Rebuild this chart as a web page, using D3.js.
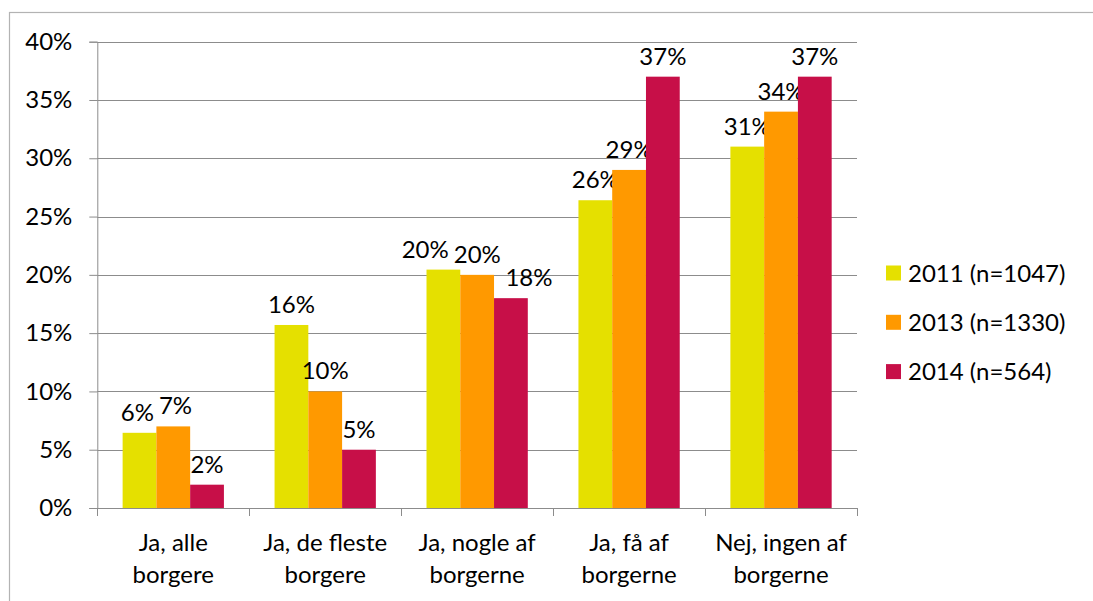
<!DOCTYPE html>
<html>
<head>
<meta charset="utf-8">
<style>
  body { margin: 0; background: #fff; }
  svg text { font-family: Lato, "Open Sans", sans-serif; fill: #000; }
</style>
</head>
<body>
<script src="https://cdn.jsdelivr.net/npm/d3@7"></script>
<script>

// data (percent)
var categories = ["Ja, alle\nborgere", "Ja, de fleste\nborgere", "Ja, nogle af\nborgerne",
                  "Ja, få af\nborgerne", "Nej, ingen af\nborgerne"];
var seriesNames = ["2011 (n=1047)", "2013 (n=1330)", "2014 (n=564)"];
var v2011 = [6.45, 15.7, 20.45, 26.4, 31.0];
var v2013 = [7.0, 10.0, 20.0, 29.0, 34.0];
var v2014 = [2.0, 5.0, 18.0, 37.0, 37.0];
var yTicks = [0, 5, 10, 15, 20, 25, 30, 35, 40];

var colors = ["#e5e000", "#ff9900", "#c70f48"];
var values = [v2011, v2013, v2014];

var W = 1093, H = 601, FS = 24;
var plot = {left: 97.3, right: 857, top: 41.7, bottom: 508};

svg = d3.select("body").append("svg")
    .attr("width", W)
    .attr("height", H);

// outer chart border (runs off the picture on right/bottom)
svg.append("rect")
    .attr("x", 9.5).attr("y", 12.5)
    .attr("width", 1200).attr("height", 700)
    .attr("fill", "none")
    .attr("stroke", "#b3b3b3")
    .attr("stroke-width", 1.2);

var x = d3.scaleBand().domain(categories).range([plot.left, plot.right]);
var xs = d3.scaleBand().domain(d3.range(3)).range([0, x.bandwidth()]).paddingOuter(0.75);
var y = d3.scaleLinear().domain([0, 40]).range([plot.bottom, plot.top]);

// gridlines
svg.append("g").selectAll("line").data(yTicks.slice(1)).enter().append("line")
    .attr("x1", plot.left).attr("x2", plot.right)
    .attr("y1", function(d) { return Math.round(y(d)) + 0.5; })
    .attr("y2", function(d) { return Math.round(y(d)) + 0.5; })
    .attr("stroke", "#8c8c8c");

// y axis
var yAxis = svg.append("g")
    .attr("transform", "translate(" + plot.left + ",0)")
    .call(d3.axisLeft(y).tickValues(yTicks).tickSize(8).tickPadding(17)
          .tickFormat(function(d) { return d + "%"; }));
yAxis.selectAll("line, path").attr("stroke", "#8c8c8c");
yAxis.selectAll("text").attr("font-size", FS).attr("font-family", "Lato");

// bars + value labels
var labelsByCat = categories.map(function() { return []; });
values.forEach(function(vals, si) {
  svg.append("g").selectAll("rect").data(vals).enter().append("rect")
      .attr("x", function(d, i) { return x(categories[i]) + xs(si); })
      .attr("width", xs.bandwidth())
      .attr("y", function(d) { return y(d); })
      .attr("height", function(d) { return plot.bottom - y(d); })
      .attr("fill", colors[si]);

  svg.append("g").selectAll("text").data(vals).enter().append("text")
      .attr("x", function(d, i) { return x(categories[i]) + xs(si) + xs.bandwidth() / 2; })
      .attr("y", function(d) { return y(d) - 12; })
      .attr("text-anchor", "middle")
      .attr("font-size", FS)
      .text(function(d) { return Math.round(d) + "%"; })
      .each(function(d, i) { labelsByCat[i].push(this); });
});

// nudge neighbouring labels apart when they collide (a few relaxation passes)
labelsByCat.forEach(function(list) {
  for (var pass = 0; pass < 12; pass++) {
    for (var k = 0; k < list.length - 1; k++) {
      var a = list[k].getBBox(), b = list[k + 1].getBBox();
      var ov = a.x + a.width + 5 - b.x;
      var vert = a.y < b.y + b.height - 4 && b.y < a.y + a.height - 4;
      if (ov > 0.5 && vert) {
        var s1 = d3.select(list[k]), s2 = d3.select(list[k + 1]);
        s1.attr("x", +s1.attr("x") - ov / 2);
        s2.attr("x", +s2.attr("x") + ov / 2);
      }
    }
  }
});

// x axis line and ticks
var xg = svg.append("g");
xg.append("line")
    .attr("x1", plot.left).attr("x2", plot.right)
    .attr("y1", plot.bottom + 0.5).attr("y2", plot.bottom + 0.5)
    .attr("stroke", "#8c8c8c");
xg.selectAll(".tk").data(d3.range(categories.length + 1)).enter().append("line")
    .attr("x1", function(i) { return Math.round(plot.left + i * x.step()) + 0.5; })
    .attr("x2", function(i) { return Math.round(plot.left + i * x.step()) + 0.5; })
    .attr("y1", plot.bottom).attr("y2", plot.bottom + 8)
    .attr("stroke", "#8c8c8c");

// category labels, two lines each
xg.selectAll(".cl").data(categories).enter().append("text")
    .attr("text-anchor", "middle")
    .attr("font-size", FS)
    .each(function(d) {
      var t = d3.select(this);
      d.split("\n").forEach(function(line, k) {
        t.append("tspan")
            .attr("x", x(d) + x.bandwidth() / 2)
            .attr("y", 551 + k * 32)
            .text(line);
      });
    });

// legend
var lg = svg.append("g").attr("transform", "translate(886,0)");
seriesNames.forEach(function(name, i) {
  var cy = 273 + i * 49.3;
  lg.append("rect")
      .attr("x", 0).attr("y", cy - 7.5)
      .attr("width", 15).attr("height", 15)
      .attr("fill", colors[i]);
  lg.append("text")
      .attr("x", 22).attr("y", cy + 8.5)
      .attr("font-size", FS)
      .text(name);
});

</script>
</body>
</html>
